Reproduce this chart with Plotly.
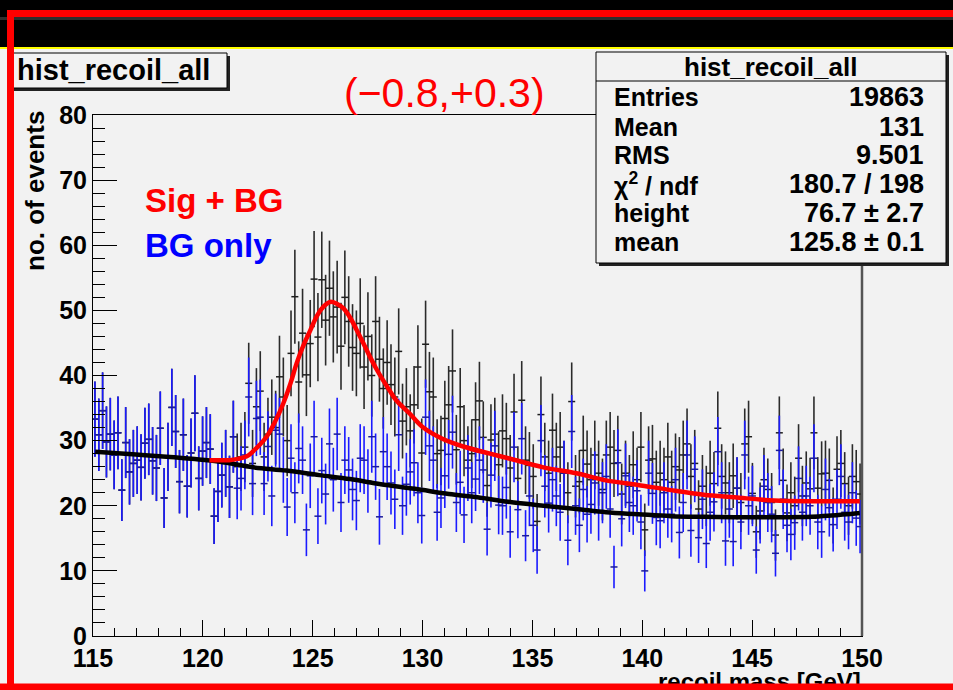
import numpy as np
import plotly.graph_objects as go

# ---------------- data ----------------
x_lo, x_hi, n_bins = 115.0, 150.0, 200

# BG-only histogram (blue), 200 bins of 0.175 GeV
bg_counts = [
    33.3, 30.9, 34.6, 29.8, 31.0, 27.8, 31.2, 22.4, 29.7, 25.2,
    26.5, 27.0, 25.9, 29.6, 30.2, 26.9, 25.8, 31.9, 21.2, 27.5,
    35.1, 31.4, 23.7, 30.9, 23.0, 28.1, 34.2, 24.2, 28.4, 29.7,
    28.7, 18.4, 22.2, 24.7, 26.5, 22.9, 30.6, 22.7, 24.2, 27.8,
    36.7, 23.4, 33.4, 33.6, 23.4, 29.1, 21.5, 31.6, 31.0, 25.5,
    19.8, 27.3, 22.0, 28.8, 27.0, 16.3, 24.6, 30.6, 18.4, 25.4,
    21.8, 29.5, 24.0, 31.0, 20.5, 27.0, 25.5, 22.5, 20.8, 27.3,
    27.0, 23.8, 30.6, 26.0, 18.3, 28.3, 26.0, 23.5, 21.0, 30.9,
    20.0, 23.3, 25.2, 26.6, 22.0, 18.5, 33.6, 29.2, 27.0, 19.0,
    21.2, 24.6, 27.9, 31.3, 20.5, 23.6, 18.6, 25.8, 22.0, 24.1,
    27.0, 25.5, 16.4, 24.7, 29.2, 20.1, 20.0, 22.8, 16.0, 29.0,
    19.4, 30.3, 15.4, 21.5, 17.0, 13.2, 30.0, 23.0, 20.4, 24.0,
    21.5, 19.0, 25.0, 14.7, 31.4, 20.0, 17.0, 22.5, 18.7, 20.2,
    23.5, 19.0, 22.0, 24.5, 19.5, 10.6, 26.6, 18.0, 24.6, 20.5,
    20.0, 22.3, 17.5, 10.0, 25.0, 21.9, 18.2, 17.7, 22.0, 19.5,
    18.7, 24.0, 15.9, 20.5, 27.8, 16.2, 25.6, 15.1, 21.0, 14.2,
    19.0, 20.6, 28.3, 22.0, 14.6, 19.5, 14.5, 22.7, 17.5, 27.8,
    20.0, 21.5, 13.2, 18.5, 23.0, 20.5, 18.7, 12.7, 28.5, 21.0,
    17.0, 15.6, 17.4, 24.2, 19.0, 21.5, 20.0, 27.3, 17.5, 16.0,
    22.5, 19.7, 17.1, 21.0, 24.5, 19.0, 17.5, 22.0, 18.1, 16.8,
]

# Sig + BG histogram (black): identical to BG below the signal, then these
sig_start_bin = 37
sigbg_tail = [
    26.0, 27.5, 29.0,
    38.8, 26.5, 35.2, 37.6, 27.5, 31.0, 33.6, 32.0, 39.8, 36.7,
    30.0, 43.4, 52.1, 39.0, 46.5, 40.1, 44.9, 54.8, 45.9, 54.7,
    48.5, 53.4, 49.0, 50.5, 44.5, 52.0, 48.3, 44.3, 43.4, 48.0,
    41.3, 46.0, 40.0, 48.3, 42.5, 38.0, 42.0, 38.6, 36.7, 43.7,
    33.0, 35.2, 31.5, 35.5, 41.3, 28.1, 44.8, 37.5, 36.7, 28.0,
    28.5, 33.4, 35.5, 40.7, 28.6, 35.2, 30.0, 27.0, 28.0, 33.2,
    36.1, 30.5, 23.1, 30.1, 31.0, 26.3, 31.5, 30.3, 25.8, 34.4,
    24.2, 36.2, 27.0, 26.2, 24.5, 17.6, 34.0, 27.5, 25.0, 31.6,
    27.5, 29.0, 25.0, 22.0, 36.0, 23.0, 23.7, 28.5, 26.4, 24.0,
    27.8, 25.0, 22.5, 27.8, 29.0, 26.5, 28.5, 21.8, 25.0, 23.0,
    26.3, 24.0, 29.0, 16.3, 27.0, 27.2, 23.6, 25.0, 24.0, 27.5,
    23.6, 26.0, 25.5, 27.8, 29.5, 24.5, 26.5, 19.5, 23.0, 21.5,
    25.0, 23.4, 31.9, 24.5, 23.5, 22.0, 24.6, 22.7, 20.5, 29.5,
    30.6, 21.9, 16.0, 19.2, 24.0, 22.5, 20.5, 15.5, 31.2, 23.9,
    18.9, 22.0, 20.0, 27.3, 21.5, 23.5, 22.6, 31.2, 22.7, 24.9,
    25.0, 23.9, 18.5, 25.6, 26.5, 23.4, 20.0, 24.5, 23.7, 21.8,
]
sigbg_counts = bg_counts[:sig_start_bin] + sigbg_tail

# fitted curves
bgfit_x = [115.1, 116.8, 118.5, 119.5, 120.7, 122.3, 123.8, 125.3, 126.7, 128.1,
           129.65, 131.2, 132.5, 133.9, 135.5, 137.0, 138.35, 139.8, 141.3, 142.8,
           144.2, 146.0, 147.7, 148.6, 149.9]
bgfit_y = [28.3, 27.9, 27.5, 27.2, 26.8, 25.9, 25.4, 24.7, 24.1, 23.3,
           22.6, 21.8, 21.3, 20.6, 20.0, 19.5, 19.0, 18.7, 18.4, 18.3,
           18.25, 18.25, 18.3, 18.5, 18.9]

sigfit_x = [120.3, 121.2, 121.6, 122.0, 122.45, 122.9, 123.3, 123.66, 124.0, 124.27,
            124.6, 124.9, 125.2, 125.5, 125.8, 126.1, 126.4, 126.7, 127.0, 127.3,
            127.6, 127.9, 128.2, 128.5, 128.8, 129.4, 130.0, 130.9, 131.85, 133.07,
            133.9, 135.5, 137.0, 138.35, 139.8, 141.3, 142.8, 144.2, 146.0, 148.0, 149.9]
sigfit_y = [27.0, 27.0, 27.2, 27.6, 28.9, 30.6, 33.0, 35.7, 38.9, 41.9,
            44.8, 47.0, 49.2, 50.6, 51.3, 51.0, 50.3, 48.9, 47.0, 45.0,
            42.9, 41.0, 39.3, 37.7, 36.2, 34.2, 32.1, 30.3, 29.1, 28.0,
            27.3, 25.9, 25.0, 23.9, 23.2, 22.4, 21.7, 21.3, 20.8, 20.7, 20.7]

x_ticks = [115, 120, 125, 130, 135, 140, 145, 150]
y_ticks = [0, 10, 20, 30, 40, 50, 60, 70, 80]

stats_labels = ["Entries", "Mean", "RMS", "χ<sup>2</sup> / ndf", "height", "mean"]
stats_values = ["19863", "131", "9.501", "180.7 / 198", "76.7 ± 2.7", "125.8 ± 0.1"]

# ---------------- figure ----------------
W, H = 953, 690
L, R, T, B = 93, 862, 115, 636  # plot area in pixels

def px(xp):
    return (xp - L) / (R - L)

def py(yp):
    return (B - yp) / (B - T)

width = (x_hi - x_lo) / n_bins
centers = x_lo + width * (np.arange(n_bins) + 0.5)
bg = np.array(bg_counts)
sb = np.array(sigbg_counts)

FONT = "Liberation Sans"
BLK = "#1e1e1e"
BLU = "#1a1aff"

fig = go.Figure()
fig.add_trace(go.Scatter(
    x=centers, y=sb, mode="markers",
    marker=dict(symbol="line-ew", size=5, color=BLK, line=dict(width=1.5, color=BLK)),
    error_y=dict(type="data", array=np.sqrt(sb), width=0, thickness=1.6, color="#2b2b2b"),
    hoverinfo="skip"))
fig.add_trace(go.Scatter(
    x=centers, y=bg, mode="markers",
    marker=dict(symbol="line-ew", size=5, color=BLU, line=dict(width=1.5, color="#1a1a9a")),
    error_y=dict(type="data", array=np.sqrt(bg), width=0, thickness=1.6, color=BLU),
    hoverinfo="skip"))
fig.add_trace(go.Scatter(x=bgfit_x, y=bgfit_y, mode="lines", line=dict(color="black", width=4.5, shape="spline")))
fig.add_trace(go.Scatter(x=sigfit_x, y=sigfit_y, mode="lines", line=dict(color="#ff0000", width=4.5, shape="spline")))

tickfont = dict(family=FONT, size=25, color="black", weight="bold")
fig.update_xaxes(range=[x_lo, x_hi], tickmode="array", tickvals=x_ticks,
                 ticktext=[str(v) for v in x_ticks],
                 ticks="inside", ticklen=16, tickwidth=1, tickcolor="black",
                 minor=dict(dtick=1, tick0=115, ticks="inside", ticklen=8, tickwidth=1, tickcolor="black"),
                 showline=True, linecolor="black", linewidth=1, mirror=True,
                 showgrid=False, zeroline=False, tickfont=tickfont, ticklabelstandoff=0)
fig.update_yaxes(range=[0, 80], tickmode="array", tickvals=y_ticks,
                 ticktext=[str(v) for v in y_ticks],
                 ticks="inside", ticklen=24, tickwidth=1, tickcolor="black",
                 minor=dict(dtick=2, tick0=0, ticks="inside", ticklen=12, tickwidth=1, tickcolor="black"),
                 showline=True, linecolor="black", linewidth=1, mirror=True,
                 showgrid=False, zeroline=False, tickfont=tickfont, ticklabelstandoff=0)

shapes = []
def rect(x0, y0, x1, y1, fill=None, line_color=None, lw=0):
    shapes.append(dict(type="rect", xref="paper", yref="paper",
                       x0=px(x0), x1=px(x1), y0=py(y1), y1=py(y0),
                       fillcolor=fill if fill else "rgba(0,0,0,0)",
                       line=dict(color=line_color if line_color else "rgba(0,0,0,0)", width=lw),
                       layer="above"))

def hline(x0, x1, y, color, lw):
    shapes.append(dict(type="line", xref="paper", yref="paper",
                       x0=px(x0), x1=px(x1), y0=py(y), y1=py(y),
                       line=dict(color=color, width=lw), layer="above"))

# top black title strip with yellow edge
rect(0, 0, W, 48, fill="black")
rect(0, 17, W, 20, fill="#2e2e2e")
hline(0, W, 48, "#ffff00", 2)
# title box
rect(11, 56, 230, 91, fill="#222222")
rect(8, 53, 227, 88, fill="#f2f2f2", line_color="black", lw=1)
# stats box
rect(599, 55, 949, 266, fill="#222222")
rect(596, 52, 946, 263, fill="#f2f2f2", line_color="black", lw=1)
hline(596, 946, 81, "black", 1)
# right frame darker
shapes.append(dict(type="line", xref="paper", yref="paper", x0=1, x1=1, y0=0, y1=py(266),
                   line=dict(color="#555555", width=2.5), layer="above"))
# red outer border
rect(10.5, 13.5, 962, 700, line_color="#ff0000", lw=7)

ann = []
def text(x, y, s, size, color="black", xanchor="left", bold=True, angle=0, fam=FONT):
    ann.append(dict(x=px(x), y=py(y), xref="paper", yref="paper", text=s, showarrow=False,
                    xanchor=xanchor, yanchor="middle", textangle=angle,
                    font=dict(family=fam, size=size, color=color, weight="bold" if bold else "normal")))

text(15, 70, "hist_recoil_all", 29)
text(444, 93, "(−0.8,+0.3)", 41, color="#ff0000", xanchor="center", bold=False)
text(143, 200, "Sig + BG", 33, color="#ff0000")
text(143, 245, "BG only", 33, color="#0000ff")
text(770, 67, "hist_recoil_all", 26)
ann[-1]["xanchor"] = "center"
row_y = [97, 127, 155, 184, 213, 242]
for lab, val, yy in zip(stats_labels, stats_values, row_y):
    text(612, yy, lab, 25)
    text(926, yy, val, 27, xanchor="right")
text(35, 191, "no. of events", 26, xanchor="center", angle=-90)
text(863, 681, "recoil mass [GeV]", 24, xanchor="right")
# bottom red border drawn over the x title
ann.append(dict(x=0.5, y=py(687), xref="paper", yref="paper", text=" ", showarrow=False,
                xanchor="center", yanchor="middle", width=980, height=6, bgcolor="#ff0000",
                borderpad=0, font=dict(size=4)))

fig.update_layout(width=W, height=H, margin=dict(l=L, r=W - R, t=T, b=H - B, pad=0),
                  paper_bgcolor="#f2f2f2", plot_bgcolor="#f2f2f2", showlegend=False,
                  shapes=shapes, annotations=ann)

fig.write_html("out.html")
